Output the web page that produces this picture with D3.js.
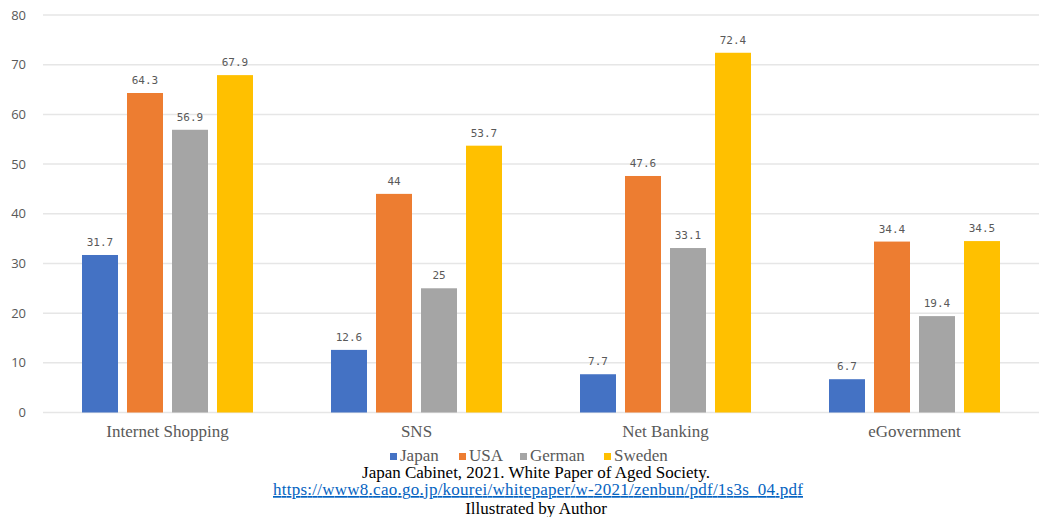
<!DOCTYPE html>
<html><head><meta charset="utf-8">
<script src="https://cdn.jsdelivr.net/npm/d3@7"></script>
<style>body{margin:0;background:#fff}svg{display:block}</style>
</head><body>
<svg id="c" width="1039" height="517"></svg>
<script>
const categories = ["Internet Shopping", "SNS", "Net Banking", "eGovernment"];
const seriesNames = ["Japan", "USA", "German", "Sweden"];
const japan  = [31.7, 12.6, 7.7, 6.7];
const usa    = [64.3, 44, 47.6, 34.4];
const german = [56.9, 25, 33.1, 19.4];
const sweden = [67.9, 53.7, 72.4, 34.5];
const yTicks = [0, 10, 20, 30, 40, 50, 60, 70, 80];
const footerLines = ["Japan Cabinet, 2021. White Paper of Aged Society.",
  "https://www8.cao.go.jp/kourei/whitepaper/w-2021/zenbun/pdf/1s3s_04.pdf",
  "Illustrated by Author"];

const colors = ["#4472C4", "#ED7D31", "#A5A5A5", "#FFC000"];
const values = [japan, usa, german, sweden];

const svg = d3.select("#c");
const plotL = 43, plotR = 1039, plotT = 15, plotB = 412.5;

const y = d3.scaleLinear().domain([0, 80]).range([plotB, plotT]);
const x0 = d3.scaleBand().domain(categories).range([plotL, plotR]).padding(0);
const outer = (x0.bandwidth() - 171) / 2;
const x1 = d3.scaleBand().domain(seriesNames).range([outer, x0.bandwidth() - outer]).paddingInner(0.2).paddingOuter(0);
const color = d3.scaleOrdinal().domain(seriesNames).range(colors);

// gridlines
svg.append("g").selectAll("line").data(yTicks).join("line")
  .attr("x1", plotL).attr("x2", plotR)
  .attr("y1", d => y(d)).attr("y2", d => y(d))
  .attr("stroke", "#e6e6e6").attr("stroke-width", 1.5);

// y axis labels
const yAxis = d3.axisLeft(y).tickValues(yTicks).tickSize(0).tickPadding(0);
const ya = svg.append("g").attr("transform", `translate(26,0)`).call(yAxis);
ya.select(".domain").remove();
ya.selectAll("text").attr("font-family", "'Open Sans', sans-serif").attr("font-size", 13).attr("fill", "#595959");

// bars
const groups = svg.append("g").selectAll("g").data(categories).join("g")
  .attr("transform", d => `translate(${x0(d)},0)`);
groups.each(function(cat, ci) {
  const g = d3.select(this);
  const data = seriesNames.map((s, si) => ({s, v: values[si][ci]}));
  g.selectAll("rect").data(data).join("rect")
    .attr("x", d => x1(d.s)).attr("width", x1.bandwidth())
    .attr("y", d => y(d.v)).attr("height", d => y(0) - y(d.v))
    .attr("fill", d => color(d.s));
  g.selectAll("text").data(data).join("text")
    .attr("x", d => x1(d.s) + x1.bandwidth() / 2)
    .attr("y", d => y(d.v) - 9)
    .attr("text-anchor", "middle")
    .attr("font-family", "'DejaVu Sans Mono', monospace").attr("font-size", 11)
    .attr("fill", "#595959")
    .text(d => d.v);
});

// category labels
svg.append("g").selectAll("text").data(categories).join("text")
  .attr("x", d => x0(d) + x0.bandwidth() / 2).attr("y", 437)
  .attr("text-anchor", "middle")
  .attr("font-family", "'Liberation Serif', 'Times New Roman', serif").attr("font-size", 17)
  .attr("fill", "#595959").text(d => d);

// legend
const legX = [390, 459, 520, 604];
const leg = svg.append("g").selectAll("g").data(seriesNames).join("g")
  .attr("transform", (d, i) => `translate(${legX[i]},0)`);
leg.append("rect").attr("x", 0).attr("y", 453).attr("width", 7).attr("height", 7).attr("fill", d => color(d));
leg.append("text").attr("x", 10).attr("y", 461)
  .attr("font-family", "'Liberation Serif', 'Times New Roman', serif").attr("font-size", 17)
  .attr("fill", "#595959").text(d => d);

// footer
const fy = [478, 495, 514];
svg.append("g").selectAll("text").data(footerLines).join("text")
  .attr("x", (d, i) => i === 1 ? 538 : 536).attr("y", (d, i) => fy[i])
  .attr("text-anchor", "middle")
  .attr("font-family", "'Liberation Serif', 'Times New Roman', serif").attr("font-size", 17)
  .attr("fill", (d, i) => i === 1 ? "#0563C1" : "#000")
  .attr("text-decoration", (d, i) => i === 1 ? "underline" : null)
  .attr("textLength", (d, i) => i === 1 ? 530 : null)
  .attr("lengthAdjust", "spacing")
  .text(d => d);
</script>
</body></html>
